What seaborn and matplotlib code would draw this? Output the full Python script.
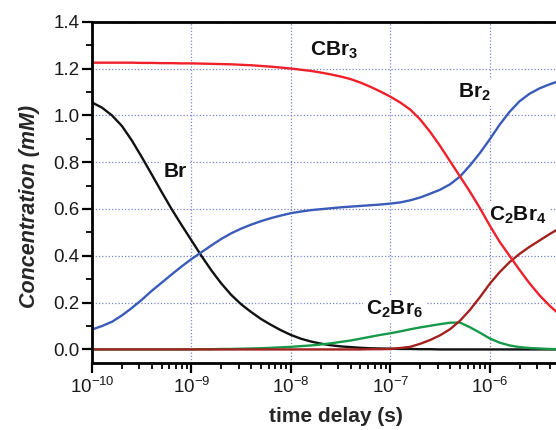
import numpy as np
import pandas as pd
import matplotlib
matplotlib.use("Agg")
import matplotlib.pyplot as plt
import seaborn as sns
from matplotlib.ticker import (FixedLocator, LogLocator, MultipleLocator,
                               NullFormatter, FormatStrFormatter, LogFormatterMathtext)

# log10 of the time delay (s)
log_t = [-10.0, -9.9, -9.8, -9.7, -9.6, -9.5, -9.4, -9.3, -9.2, -9.1,
         -9.0, -8.9, -8.8, -8.7, -8.6, -8.5, -8.4, -8.3, -8.2, -8.1,
         -8.0, -7.9, -7.8, -7.7, -7.6, -7.5, -7.4, -7.3, -7.2, -7.1,
         -7.0, -6.9, -6.8, -6.7, -6.6, -6.5, -6.4, -6.3, -6.2, -6.1,
         -6.0, -5.9, -5.8, -5.7, -5.6, -5.5, -5.4, -5.3, -5.2]

# concentrations (mM)
cbr3 = [1.225, 1.225, 1.225, 1.225, 1.225, 1.224, 1.224, 1.223, 1.223, 1.222,
        1.222, 1.221, 1.220, 1.219, 1.218, 1.216, 1.214, 1.211, 1.208, 1.204,
        1.200, 1.195, 1.190, 1.183, 1.175, 1.166, 1.155, 1.140, 1.122, 1.102,
        1.080, 1.055, 1.025, 0.983, 0.930, 0.870, 0.805, 0.740, 0.675, 0.605,
        0.530, 0.460, 0.400, 0.340, 0.283, 0.232, 0.188, 0.150, 0.118]
br = [1.055, 1.033, 1.000, 0.955, 0.893, 0.822, 0.748, 0.673, 0.600, 0.532,
      0.466, 0.400, 0.338, 0.282, 0.233, 0.193, 0.160, 0.130, 0.105, 0.082,
      0.062, 0.046, 0.034, 0.025, 0.018, 0.013, 0.010, 0.007, 0.005, 0.004,
      0.003, 0.002, 0.002, 0.001, 0.001, 0.0, 0.0, 0.0, 0.0, 0.0,
      0.0, 0.0, 0.0, 0.0, 0.0, 0.0, 0.0, 0.0, 0.0]
br2 = [0.085, 0.100, 0.118, 0.145, 0.177, 0.212, 0.250, 0.285, 0.320, 0.354,
       0.386, 0.415, 0.444, 0.472, 0.496, 0.516, 0.533, 0.548, 0.561, 0.572,
       0.582, 0.589, 0.595, 0.599, 0.603, 0.607, 0.610, 0.613, 0.616, 0.619,
       0.623, 0.628, 0.637, 0.649, 0.665, 0.682, 0.705, 0.738, 0.785, 0.838,
       0.897, 0.960, 1.015, 1.060, 1.092, 1.115, 1.132, 1.147, 1.160]
c2br6 = [0.0, 0.0, 0.0, 0.0, 0.0, 0.0, 0.0, 0.0, 0.0, 0.0,
         0.0, 0.001, 0.001, 0.002, 0.002, 0.003, 0.004, 0.005, 0.007, 0.009,
         0.011, 0.014, 0.017, 0.021, 0.026, 0.032, 0.038, 0.046, 0.054, 0.062,
         0.069, 0.077, 0.086, 0.094, 0.101, 0.108, 0.114, 0.115, 0.095, 0.072,
         0.047, 0.029, 0.017, 0.010, 0.006, 0.004, 0.002, 0.001, 0.001]
c2br4 = [0.0, 0.0, 0.0, 0.0, 0.0, 0.0, 0.0, 0.0, 0.0, 0.0,
         0.0, 0.0, 0.0, 0.0, 0.0, 0.0, 0.0, 0.0, 0.0, 0.0,
         0.0, 0.0, 0.0, 0.0, 0.0, 0.0, 0.0, 0.0, 0.001, 0.001,
         0.002, 0.006, 0.011, 0.024, 0.040, 0.060, 0.086, 0.122, 0.168, 0.222,
         0.280, 0.330, 0.373, 0.408, 0.438, 0.465, 0.492, 0.517, 0.538]

species = ["Br", "C2Br6", "C2Br4", "Br2", "CBr3"]
series = {"Br": br, "C2Br6": c2br6, "C2Br4": c2br4, "Br2": br2, "CBr3": cbr3}
colors = {"Br": "#111111", "C2Br6": "#17994a", "C2Br4": "#a3221e",
          "Br2": "#3a5cb8", "CBr3": "#f0202a"}

# curve labels: (text, log10 time, baseline concentration)
labels = [
    (r"CBr$_\mathbf{3}$", -7.57, 1.253),
    (r"Br$_\mathbf{2}$", -6.15, 1.077),
    (r"Br", -9.16, 0.735),
    (r"C$_\mathbf{2}$Br$_\mathbf{4}$", -5.72, 0.550),
    (r"C$_\mathbf{2}$Br$_\mathbf{6}$", -6.96, 0.150),
]

x_major = [1e-10, 1e-9, 1e-8, 1e-7, 1e-6]

times = 10.0 ** np.array(log_t)
df = pd.concat(
    [pd.DataFrame({"time": times, "conc": series[s], "species": s}) for s in species],
    ignore_index=True,
)

sns.set_style("ticks")
plt.rcParams["font.family"] = ["Liberation Sans", "DejaVu Sans"]
plt.rcParams["mathtext.fontset"] = "custom"
plt.rcParams["mathtext.rm"] = "Liberation Sans"
plt.rcParams["mathtext.it"] = "Liberation Sans:italic"
plt.rcParams["mathtext.bf"] = "Liberation Sans:bold"
plt.rcParams["mathtext.default"] = "regular"
plt.rcParams["axes.unicode_minus"] = False

fig = plt.figure(figsize=(5.56, 4.30), dpi=100)
ax = fig.add_axes([0.1655, 0.1558, 0.894, 0.7937])

sns.lineplot(data=df, x="time", y="conc", hue="species", hue_order=species,
             palette=colors, linewidth=1.7, legend=False, estimator=None,
             sort=False, ax=ax)

ax.set_xscale("log")
ax.set_xlim(1e-10, 1e-5)
ax.set_ylim(-0.058, 1.4)

ax.xaxis.set_major_locator(FixedLocator(x_major))
ax.xaxis.set_major_formatter(LogFormatterMathtext())
ax.xaxis.set_minor_locator(LogLocator(base=10, subs=np.arange(2, 10), numticks=20))
ax.xaxis.set_minor_formatter(NullFormatter())
ax.yaxis.set_major_locator(MultipleLocator(0.2))
ax.yaxis.set_minor_locator(MultipleLocator(0.1))
ax.yaxis.set_major_formatter(FormatStrFormatter("%.1f"))

ax.set_axisbelow(True)
ax.grid(True, which="major", color="#7c84d6", linestyle=(0, (1, 1.6)), linewidth=0.9)
ax.axvline(1e-5, color="#7c84d6", linestyle=(0, (1, 1.6)), linewidth=0.9, zorder=0.5)

for side in ("top", "left", "bottom"):
    ax.spines[side].set_linewidth(2.0)
    ax.spines[side].set_color("black")
ax.spines["right"].set_visible(False)

ax.tick_params(axis="both", which="major", direction="out", length=7, width=1.6,
               labelsize=13.5, colors="black", labelcolor="#1a1a1a")
ax.tick_params(axis="both", which="minor", direction="out", length=4, width=1.3,
               colors="black")
ax.tick_params(axis="y", which="major", pad=2)
ax.tick_params(axis="x", which="major", pad=3)
ax.tick_params(top=False, right=False, which="both")

ax.set_xlabel("time delay (s)", fontsize=15, fontweight="bold")
ax.set_ylabel("Concentration (mM)", fontsize=15.5, fontweight="bold", fontstyle="italic")
ax.xaxis.set_label_coords(0.491, -0.128)
ax.yaxis.set_label_coords(-0.105, 0.46)

for text, lt, yb in labels:
    ax.text(10.0 ** lt, yb, text, ha="center", va="baseline", fontsize=15,
            fontweight="bold", color="#111111", zorder=1.5,
            bbox=dict(boxstyle="square,pad=0.15", facecolor="white", edgecolor="none"))

fig.savefig("out.png", dpi=100)
